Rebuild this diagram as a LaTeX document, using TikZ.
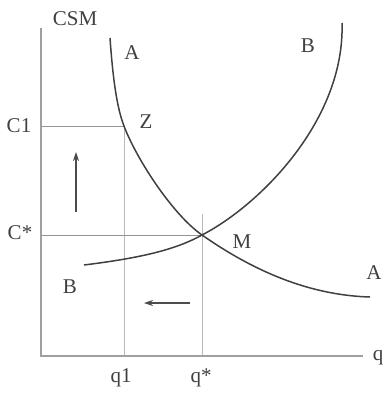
\documentclass[tikz,border=0pt]{standalone}
\usepackage{fontspec}
\setmainfont{Liberation Serif}
\usetikzlibrary{arrows.meta}
\begin{document}
\begin{tikzpicture}[x=1pt,y=-1pt,
  lbl/.style={text=black!75,font=\fontsize{21}{24}\selectfont,inner sep=0pt},
  axis/.style={draw=gray!75,line width=2pt},
  curve/.style={draw=black!75,line width=1.5pt},
  hguide/.style={draw=gray!85,line width=1pt},
  vguide/.style={draw=gray!55,line width=0.7pt},
  motion/.style={draw=black!70,line width=1.1pt,-{Stealth[length=9pt,width=6pt]}}]
\useasboundingbox (0,0) rectangle (384,394);
% key points
\coordinate (O) at (41,356);
\coordinate (ytop) at (41,28);
\coordinate (xend) at (363,356);
\coordinate (Z) at (124,126);
\coordinate (M) at (202,235);
\coordinate (C1y) at (41,126);
\coordinate (Csy) at (41,235);
\coordinate (q1x) at (124,356);
\coordinate (qsx) at (202,356);
\coordinate (qstop) at (202,214);
\coordinate (Astart) at (110,38);
\coordinate (Aend) at (370,297);
\coordinate (Bstart) at (84,265);
\coordinate (Bend) at (342,23);
% guides
\draw[vguide] (Z) -- (q1x);
\draw[vguide] (qstop) -- (qsx);
\draw[hguide] (C1y) -- (Z);
\draw[hguide] (Csy) -- (M);
% axes
\draw[axis] (ytop) -- (O) -- (xend);
% curves
\draw[curve] (Astart) .. controls (113,80) and (117,108) .. (Z)
  .. controls (136,158) and (172,214) .. (M)
  .. controls (245,265) and (302,295) .. (Aend);
\draw[curve] (Bstart) .. controls (140,258) and (175,250) .. (M)
  .. controls (260,205) and (345,120) .. (Bend);
% motion arrows
\coordinate (ua0) at (76,212);
\coordinate (ua1) at (76,152);
\coordinate (la0) at (190,303);
\coordinate (la1) at (144,303);
\draw[motion] (ua0) -- (ua1);
\draw[motion] (la0) -- (la1);
% labels
\node[lbl] (csm) at (75,19) {CSM};
\node[lbl] (Atop) at (132,53) {A};
\node[lbl] (Btop) at (308,46) {B};
\node[lbl] (Aright) at (374,273) {A};
\node[lbl] (Bleft) at (70,287) {B};
\node[lbl] (Zl) at (146,122) {Z};
\node[lbl] (Ml) at (242,242) {M};
\node[lbl] (C1l) at (19,126) {C1};
\node[lbl] (Csl) at (20,233) {C*};
\node[lbl] (q1l) at (121,378) {q1};
\node[lbl] (qsl) at (201,378) {q*};
\node[lbl,anchor=east] (ql) at (383.5,358) {q};
\end{tikzpicture}
\end{document}
